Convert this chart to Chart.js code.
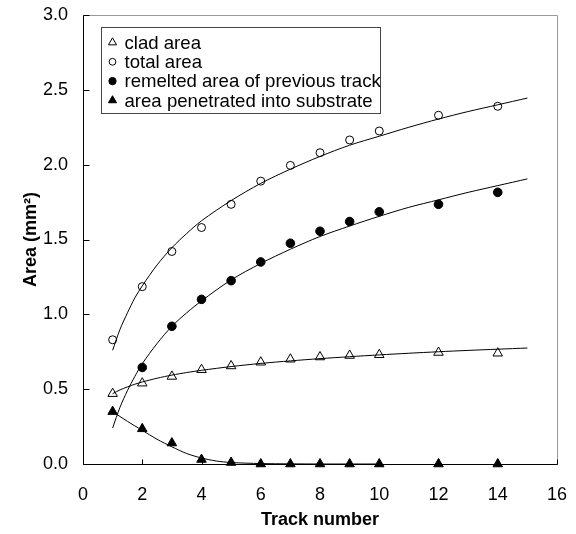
<!DOCTYPE html>
<html>
<head>
<meta charset="utf-8">
<script src="https://cdn.jsdelivr.net/npm/chart.js@4/dist/chart.umd.min.js"></script>
<style>
html, body { margin: 0; padding: 0; background: #fff; }
</style>
</head>
<body>
<canvas id="area_chart" width="576" height="534"></canvas>
<script>
// measured points
const trackNumbers = [1, 2, 3, 4, 5, 6, 7, 8, 9, 10, 12, 14];
const cladArea = [0.47, 0.54, 0.585, 0.63, 0.655, 0.68, 0.70, 0.715, 0.725, 0.73, 0.745, 0.74];
const totalArea = [0.83, 1.185, 1.42, 1.58, 1.735, 1.89, 1.995, 2.08, 2.165, 2.225, 2.33, 2.39];
const remeltedArea = [null, 0.645, 0.92, 1.10, 1.225, 1.35, 1.475, 1.555, 1.62, 1.685, 1.735, 1.815];
const penetratedArea = [0.35, 0.235, 0.14, 0.03, 0.01, 0, 0, 0, 0, 0, 0, 0];

// trend curves
const fitX = [1, 1.25, 1.5, 1.75, 2, 2.5, 3, 3.5, 4, 5, 6, 7, 8, 9, 10, 11, 12, 13, 14, 15];
const cladFit = [0.47, 0.495, 0.515, 0.533, 0.548, 0.573, 0.594, 0.611, 0.626, 0.651, 0.672, 0.689, 0.704, 0.717, 0.729, 0.74, 0.75, 0.759, 0.767, 0.775];
const totalFit = [0.76, 0.90, 1.01, 1.11, 1.19, 1.33, 1.445, 1.54, 1.625, 1.76, 1.875, 1.97, 2.055, 2.13, 2.19, 2.25, 2.305, 2.355, 2.40, 2.445];
const remeltedFit = [0.24, 0.38, 0.49, 0.585, 0.67, 0.805, 0.92, 1.01, 1.09, 1.23, 1.34, 1.435, 1.52, 1.59, 1.655, 1.715, 1.765, 1.815, 1.86, 1.905];
const penetratedFitX = [1, 1.5, 2, 2.5, 3, 3.5, 4, 4.5, 5, 6, 7, 8, 10];
const penetratedFit = [0.35, 0.285, 0.225, 0.165, 0.115, 0.07, 0.04, 0.02, 0.01, 0.003, 0.001, 0, 0];

const seriesLabels = ['clad area', 'total area', 'remelted area of previous track', 'area penetrated into substrate'];
const xTicks = [0, 2, 4, 6, 8, 10, 12, 14, 16];
const yTicks = [0, 0.5, 1.0, 1.5, 2.0, 2.5, 3.0];

const FONT = 'Liberation Sans, Arial, sans-serif';

function pts(xs, ys) {
    let out = [];
    for (let i = 0; i < xs.length; i++) {
        if (ys[i] !== null) out.push({x: xs[i], y: ys[i]});
    }
    return out;
}

function markerSet(label, ys, style, filled, r) {
    return {
        label: label,
        data: pts(trackNumbers, ys),
        showLine: false,
        pointStyle: style,
        pointRadius: r,
        pointHoverRadius: r,
        pointBorderWidth: 1,
        borderColor: '#000',
        backgroundColor: filled ? '#000' : '#fff',
        clip: false
    };
}

function fitSet(xs, ys) {
    return {
        label: '',
        isFit: true,
        data: pts(xs, ys),
        showLine: true,
        pointRadius: 0,
        borderColor: '#000',
        borderWidth: 1,
        tension: 0.3,
        fill: false
    };
}

// frame, inward ticks and boxed legend
const framePlugin = {
    id: 'frame',
    afterDraw(chart) {
        const ctx = chart.ctx;
        const a = chart.chartArea;
        const xs = chart.scales.x, ys = chart.scales.y;
        const L = Math.round(a.left) + 0.5, R = Math.round(a.right) + 0.5;
        const T = Math.round(a.top) + 0.5, B = Math.round(a.bottom) + 0.5;
        ctx.save();
        ctx.lineWidth = 1;
        ctx.strokeStyle = '#999';
        ctx.beginPath();
        ctx.moveTo(L, T); ctx.lineTo(R, T); ctx.lineTo(R, B);
        ctx.stroke();
        ctx.strokeStyle = '#000';
        ctx.beginPath();
        ctx.moveTo(L, T); ctx.lineTo(L, B); ctx.lineTo(R, B);
        xTicks.forEach(v => {
            const px = Math.round(xs.getPixelForValue(v)) + 0.5;
            ctx.moveTo(px, B); ctx.lineTo(px, B - 5);
        });
        yTicks.forEach(v => {
            const py = Math.round(ys.getPixelForValue(v)) + 0.5;
            ctx.moveTo(L, py); ctx.lineTo(L + 6, py);
        });
        ctx.stroke();

        // legend
        const bx = L + 18, by = T + 12, bw = 279, bh = 86;
        ctx.fillStyle = '#fff';
        ctx.fillRect(bx, by, bw, bh);
        ctx.strokeStyle = '#444';
        ctx.strokeRect(bx, by, bw, bh);
        ctx.font = '18.6px ' + FONT;
        ctx.textBaseline = 'middle';
        ctx.textAlign = 'left';
        const sets = chart.data.datasets.filter(d => !d.isFit);
        sets.forEach((d, i) => {
            const ry = by + 15 + i * 19.3;
            ctx.fillStyle = d.backgroundColor;
            ctx.strokeStyle = '#000';
            ctx.lineWidth = 1;
            Chart.helpers.drawPoint(ctx, {
                pointStyle: d.pointStyle,
                radius: d.pointRadius * 0.85,
                rotation: 0,
                borderWidth: 1
            }, bx + 11, ry);
            ctx.fillStyle = '#000';
            ctx.fillText(d.label, bx + 23, ry + 1);
        });
        ctx.restore();
    }
};

const chart = new Chart('area_chart', {
    type: 'scatter',
    data: {
        datasets: [
            fitSet(fitX, cladFit),
            fitSet(fitX, totalFit),
            fitSet(fitX, remeltedFit),
            fitSet(penetratedFitX, penetratedFit),
            markerSet(seriesLabels[0], cladArea, 'triangle', false, 5.5),
            markerSet(seriesLabels[1], totalArea, 'circle', false, 4),
            markerSet(seriesLabels[2], remeltedArea, 'circle', true, 4.3),
            markerSet(seriesLabels[3], penetratedArea, 'triangle', true, 5.5)
        ]
    },
    options: {
        responsive: false,
        animation: false,
        events: [],
        layout: {
            padding: {top: 15, right: 19, left: 0, bottom: 0}
        },
        plugins: {
            legend: {display: false},
            tooltip: {enabled: false}
        },
        scales: {
            x: {
                type: 'linear',
                min: 0,
                max: 16,
                afterFit: s => { s.height = 70; s.paddingLeft = 0; s.paddingRight = 0; },
                afterBuildTicks: s => { s.ticks = xTicks.map(v => ({value: v})); },
                ticks: {
                    color: '#000',
                    font: {family: FONT, size: 18},
                    padding: 20,
                    maxRotation: 0
                },
                grid: {drawOnChartArea: false, drawTicks: false},
                border: {display: false},
                title: {
                    display: true,
                    text: 'Track number',
                    color: '#000',
                    font: {family: FONT, size: 18, weight: 'bold'},
                    padding: {top: 0, bottom: 3}
                }
            },
            y: {
                type: 'linear',
                min: 0,
                max: 3,
                afterFit: s => { s.width = 83; s.paddingTop = 0; s.paddingBottom = 0; },
                afterBuildTicks: s => { s.ticks = yTicks.map(v => ({value: v})); },
                ticks: {
                    color: '#000',
                    font: {family: FONT, size: 18},
                    padding: 15,
                    callback: v => v.toFixed(1)
                },
                grid: {drawOnChartArea: false, drawTicks: false},
                border: {display: false},
                title: {
                    display: true,
                    text: 'Area (mm²)',
                    color: '#000',
                    font: {family: FONT, size: 18, weight: 'bold'},
                    padding: {top: 20, bottom: 0}
                }
            }
        }
    },
    plugins: [framePlugin]
});
</script>
</body>
</html>
